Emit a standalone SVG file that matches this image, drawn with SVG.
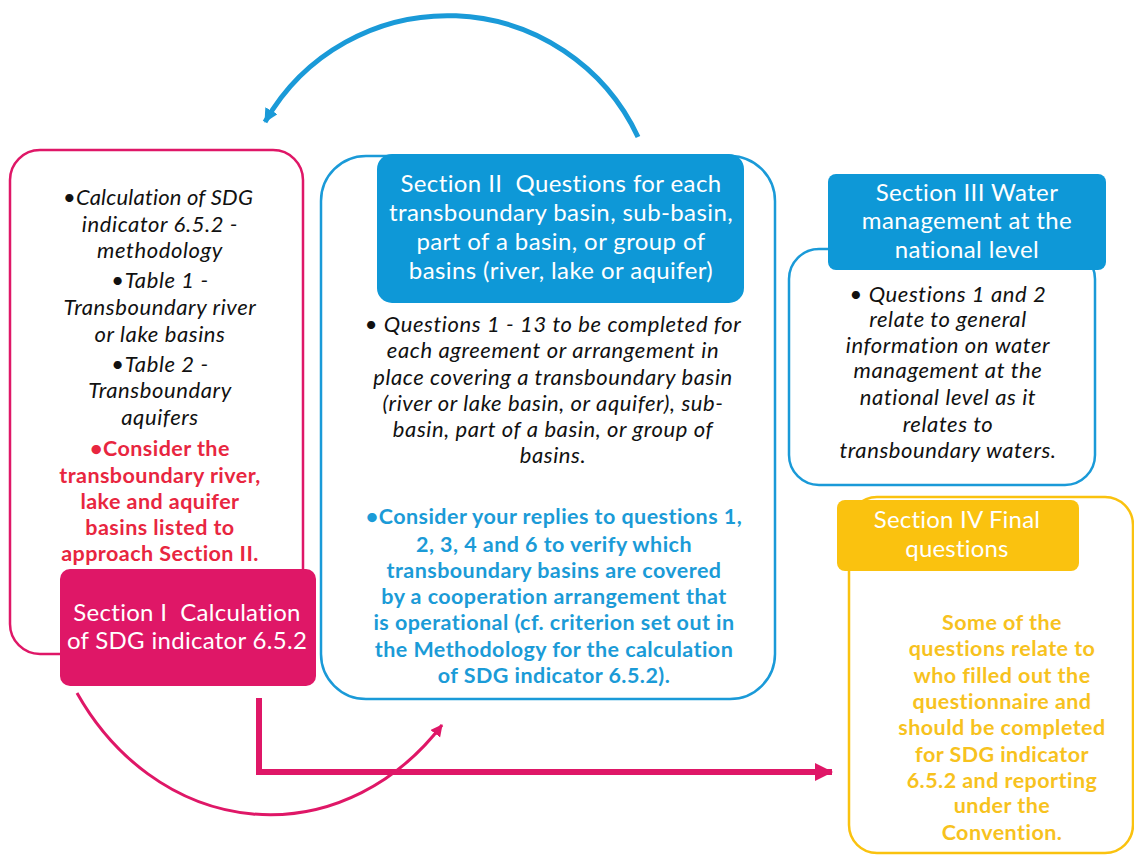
<svg xmlns="http://www.w3.org/2000/svg" width="1134" height="855" viewBox="0 0 1134 855">
<style>
.out{fill:none;stroke-width:2.5}
.hdr{font-family:Lato,"Liberation Sans",sans-serif;fill:#fff;text-anchor:middle;font-size:24px;letter-spacing:0.4px}
.it{font-family:Lato,"Liberation Sans",sans-serif;font-style:italic;fill:#111;text-anchor:middle;font-size:22px;letter-spacing:0.6px}
.bd{font-family:Lato,"Liberation Sans",sans-serif;font-weight:bold;text-anchor:middle;font-size:21.5px;letter-spacing:0.45px}
</style>
<defs>
<marker id="ahBlue" markerUnits="userSpaceOnUse" markerWidth="16" markerHeight="16" refX="13" refY="7" orient="auto"><path d="M0,0 L14,7 L0,14 z" fill="#1A9AD8"/></marker>
<marker id="ahPinkS" markerUnits="userSpaceOnUse" markerWidth="14" markerHeight="14" refX="11" refY="6" orient="auto"><path d="M0,0 L12,6 L0,12 z" fill="#DF1767"/></marker>
<marker id="ahPinkL" markerUnits="userSpaceOnUse" markerWidth="20" markerHeight="20" refX="17" refY="9" orient="auto"><path d="M0,0 L18,9 L0,18 z" fill="#DF1767"/></marker>
</defs>
<rect width="1134" height="855" fill="#fff"/>

<g id="connectors">
<path d="M638,137 A210,210 0 0 0 265,122" fill="none" stroke="#1A9AD8" stroke-width="5" marker-end="url(#ahBlue)"/>
<path d="M77,693 A231,270 0 0 0 442,725" fill="none" stroke="#DF1767" stroke-width="3" marker-end="url(#ahPinkS)"/>
<path d="M259,698 L259,772 L832,772" fill="none" stroke="#DF1767" stroke-width="6" marker-end="url(#ahPinkL)"/>
</g>

<g id="section1">
<rect class="out" x="10" y="150" width="293" height="504" rx="30" stroke="#DF1767"/>
<text class="it" x="158" y="205" style="letter-spacing:0.2px">•Calculation of SDG</text>
<text class="it" x="160" y="232">indicator 6.5.2 -</text>
<text class="it" x="160" y="258">methodology</text>
<text class="it" x="160" y="288">•Table 1 -</text>
<text class="it" x="160" y="315">Transboundary river</text>
<text class="it" x="160" y="342">or lake basins</text>
<text class="it" x="160" y="372">•Table 2 -</text>
<text class="it" x="160" y="398">Transboundary</text>
<text class="it" x="160" y="425">aquifers</text>
<g fill="#E8263F">
<text class="bd" x="160" y="456">•Consider the</text>
<text class="bd" x="160" y="483">transboundary river,</text>
<text class="bd" x="160" y="509">lake and aquifer</text>
<text class="bd" x="160" y="535">basins listed to</text>
<text class="bd" x="160" y="561">approach Section II.</text>
</g>
<rect x="60" y="569" width="256" height="117" rx="10" fill="#DF1767"/>
<text class="hdr" x="187" y="621" style="letter-spacing:0.3px" xml:space="preserve">Section I  Calculation</text>
<text class="hdr" x="187" y="649" style="letter-spacing:0.3px">of SDG indicator 6.5.2</text>
</g>

<g id="section2">
<rect class="out" x="321" y="156" width="454" height="543" rx="45" stroke="#1A9AD8"/>
<rect x="377" y="154" width="367" height="149" rx="15" fill="#0E98D7"/>
<text class="hdr" x="561" y="192" xml:space="preserve">Section II  Questions for each</text>
<text class="hdr" x="561" y="221">transboundary basin, sub-basin,</text>
<text class="hdr" x="561" y="250">part of a basin, or group of</text>
<text class="hdr" x="561" y="279">basins (river, lake or aquifer)</text>
<text class="it" x="553" y="332">• Questions 1 - 13 to be completed for</text>
<text class="it" x="553" y="358">each agreement or arrangement in</text>
<text class="it" x="553" y="385">place covering a transboundary basin</text>
<text class="it" x="553" y="411">(river or lake basin, or aquifer), sub-</text>
<text class="it" x="553" y="437">basin, part of a basin, or group of</text>
<text class="it" x="553" y="463">basins.</text>
<g fill="#1B9BD7">
<text class="bd" x="554" y="524">•Consider your replies to questions 1,</text>
<text class="bd" x="554" y="552">2, 3, 4 and 6 to verify which</text>
<text class="bd" x="554" y="578">transboundary basins are covered</text>
<text class="bd" x="554" y="604">by a cooperation arrangement that</text>
<text class="bd" x="554" y="630">is operational (cf. criterion set out in</text>
<text class="bd" x="554" y="657">the Methodology for the calculation</text>
<text class="bd" x="554" y="683">of SDG indicator 6.5.2).</text>
</g>
</g>

<g id="section3">
<rect class="out" x="789" y="249" width="306" height="236" rx="30" stroke="#1A9AD8"/>
<rect x="828" y="174" width="278" height="96" rx="8" fill="#0E98D7"/>
<text class="hdr" x="967" y="201">Section III Water</text>
<text class="hdr" x="967" y="229">management at the</text>
<text class="hdr" x="967" y="258">national level</text>
<text class="it" x="948" y="302">• Questions 1 and 2</text>
<text class="it" x="948" y="327">relate to general</text>
<text class="it" x="948" y="353">information on water</text>
<text class="it" x="948" y="378">management at the</text>
<text class="it" x="948" y="405">national level as it</text>
<text class="it" x="948" y="432">relates to</text>
<text class="it" x="948" y="458">transboundary waters.</text>
</g>

<g id="section4">
<rect class="out" x="849" y="497" width="284" height="356" rx="28" stroke="#FAC20F"/>
<rect x="837" y="500" width="242" height="71" rx="8" fill="#FAC20F"/>
<text class="hdr" x="957" y="528" style="letter-spacing:0.2px">Section IV Final</text>
<text class="hdr" x="957" y="557" style="letter-spacing:0.2px">questions</text>
<g fill="#F7C21E">
<text class="bd" x="1002" y="630">Some of the</text>
<text class="bd" x="1002" y="656">questions relate to</text>
<text class="bd" x="1002" y="683">who filled out the</text>
<text class="bd" x="1002" y="709">questionnaire and</text>
<text class="bd" x="1002" y="735">should be completed</text>
<text class="bd" x="1002" y="762">for SDG indicator</text>
<text class="bd" x="1002" y="788">6.5.2 and reporting</text>
<text class="bd" x="1002" y="813">under the</text>
<text class="bd" x="1002" y="840">Convention.</text>
</g>
</g>
</svg>
